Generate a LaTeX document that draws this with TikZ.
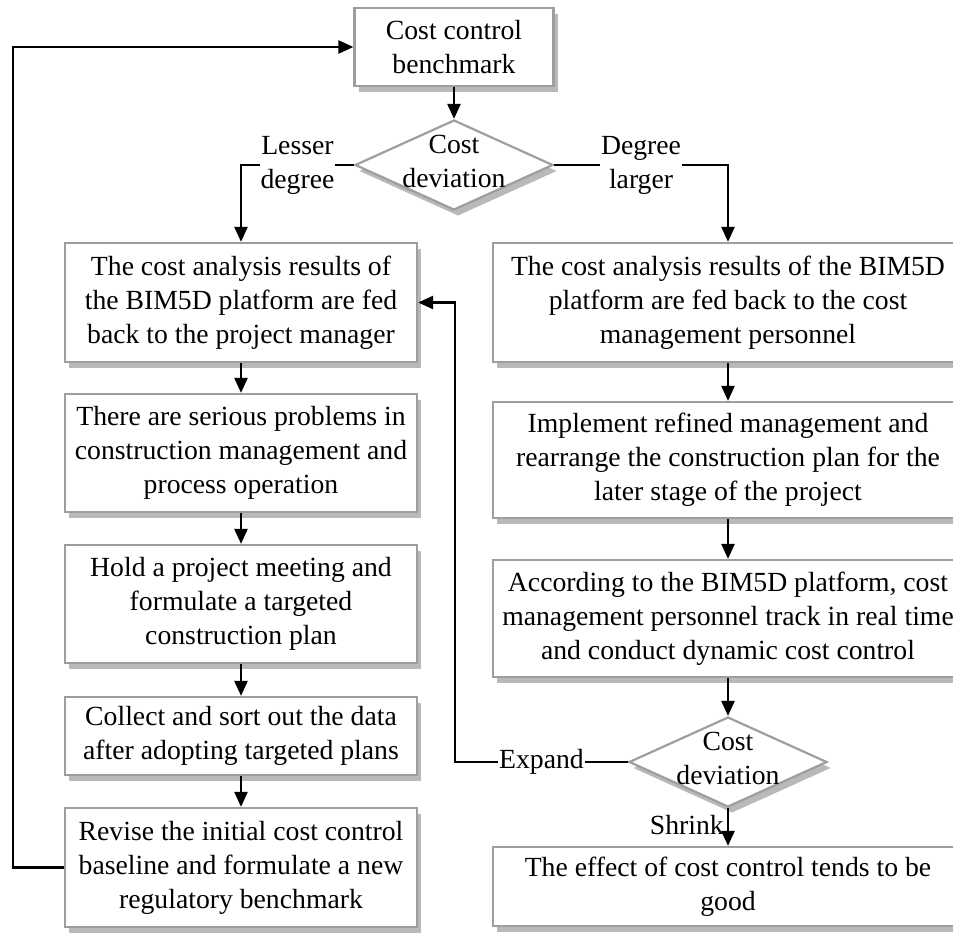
\documentclass[tikz,border=0pt]{standalone}
\usepackage{fontspec}
\setmainfont{Liberation Serif}
\usetikzlibrary{shapes.geometric,arrows.meta,shadows}
\begin{document}
\begin{tikzpicture}[x=1pt,y=-1pt,
  font=\fontsize{27.7}{34}\selectfont,
  shad/.style={drop shadow={shadow xshift=4pt,shadow yshift=-6pt,fill=black!55,opacity=0.5}},
  box/.style={draw=black!38,line width=2.2pt,fill=white,shad,inner sep=0pt,align=center},
  lbox/.style={box,minimum width=352pt},
  rbox/.style={box,minimum width=470pt},
  decision/.style={diamond,draw=black!38,line width=2.2pt,fill=white,shad,inner sep=0pt,minimum width=198pt,minimum height=90pt},
  arr/.style={line width=2.4pt,-{Triangle[length=15pt,width=13pt]}},
  lbl/.style={fill=white,inner sep=1pt,align=center}]
\useasboundingbox (0,0) rectangle (953,933);
% boxes
\node[box,minimum width=199pt,minimum height=78pt] (top) at (454,47) {Cost control\\benchmark};
\node[decision] (d1) at (454,165) {};
\node[align=center] at (454,161) {Cost\\deviation};
\node[lbox,minimum height=119pt] (l1) at (241,302.5) {The cost analysis results of\\the BIM5D platform are fed\\back to the project manager};
\node[lbox,minimum height=118pt] (l2) at (241,453) {There are serious problems in\\construction management and\\process operation};
\node[lbox,minimum height=118pt] (l3) at (241,604) {Hold a project meeting and\\formulate a targeted\\construction plan};
\node[lbox,minimum height=78pt] (l4) at (241,736) {Collect and sort out the data\\after adopting targeted plans};
\node[lbox,minimum height=119pt] (l5) at (241,867.5) {Revise the initial cost control\\baseline and formulate a new\\regulatory benchmark};
\node[rbox,minimum height=119pt] (r1) at (728,302.5) {The cost analysis results of the BIM5D\\platform are fed back to the cost\\management personnel};
\node[rbox,minimum height=116pt] (r2) at (728,460) {Implement refined management and\\rearrange the construction plan for the\\later stage of the project};
\node[rbox,minimum height=117pt] (r3) at (728,618.5) {According to the BIM5D platform, cost\\management personnel track in real time\\and conduct dynamic cost control};
\node[decision] (d2) at (728,762) {};
\node[align=center] at (728,758) {Cost\\deviation};
\node[rbox,minimum height=79pt] (r4) at (728,886.5) {The effect of cost control tends to be\\good};
% connectors
\draw[arr] (top) -- (d1);
\draw[arr] (d1.west) -| node[lbl,pos=0.25] {Lesser\\degree} (l1.north);
\draw[arr] (d1.east) -| node[lbl,pos=0.25] {Degree\\larger} (r1.north);
\draw[arr] (l1) -- (l2);
\draw[arr] (l2) -- (l3);
\draw[arr] (l3) -- (l4);
\draw[arr] (l4) -- (l5);
\draw[arr] (r1) -- (r2);
\draw[arr] (r2) -- (r3);
\draw[arr] (r3) -- (d2);
\draw[arr] (d2) -- node[left,inner sep=3pt,pos=0.45] {Shrink} (r4);
\coordinate (e1) at (455,762);
\draw[arr] (d2.west) -- node[lbl] {Expand} (e1) |- (l1.east);
\coordinate (f1) at (13,867.5);
\draw[arr] (l5.west) -- (f1) |- (top.west);
\end{tikzpicture}
\end{document}
